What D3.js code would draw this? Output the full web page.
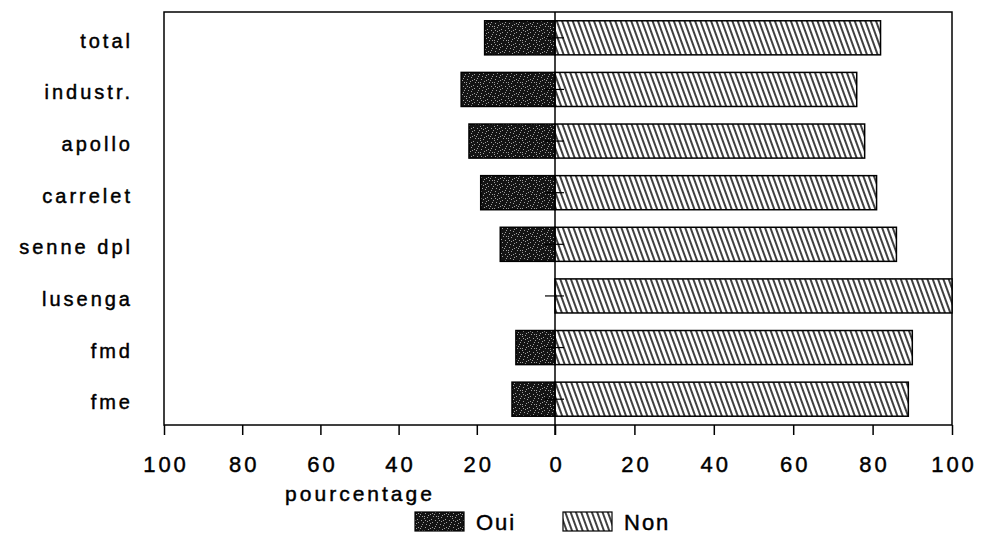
<!DOCTYPE html>
<html>
<head>
<meta charset="utf-8">
<script src="https://cdn.jsdelivr.net/npm/d3@7"></script>
<style>
  body { margin: 0; background: #fff; }
  svg { display: block; font-family: "Liberation Sans", Arial, sans-serif; }
  svg text { fill: #000; stroke: #000; stroke-width: 0.45px; }
</style>
</head>
<body>
<svg id="chart" width="981" height="541"></svg>
<script>
// categories (top to bottom) and values in percent
const categories = ["total", "industr.", "apollo", "carrelet", "senne dpl", "lusenga", "fmd", "fme"];
const oui = [18, 24, 22, 19, 14, 0, 10, 11];
const non = [82, 76, 78, 81, 86, 100, 90, 89];
const xTicks = [-100, -80, -60, -40, -20, 0, 20, 40, 60, 80, 100];
const axisTitle = "pourcentage";
const legendLabels = ["Oui", "Non"];

const svg = d3.select("#chart");

// frame of the plot
const plotLeft = 164, plotRight = 952, plotTop = 12, plotBottom = 425;

// left half (Oui) is a bit narrower than right half on the scan
const x = d3.scaleLinear().domain([-100, 0, 100]).range([plotLeft, 555, plotRight]);
const y = d3.scaleBand().domain(categories).range([plotTop, plotBottom])
  .paddingInner(0.34).paddingOuter(0.17);

// patterns
const defs = svg.append("defs");

const hatch = defs.append("pattern")
  .attr("id", "hatch")
  .attr("patternUnits", "userSpaceOnUse")
  .attr("width", 5).attr("height", 5)
  .attr("patternTransform", "rotate(-20)");
hatch.append("rect").attr("width", 5).attr("height", 5).attr("fill", "#fff");
hatch.append("line")
  .attr("x1", 1).attr("y1", -1).attr("x2", 1).attr("y2", 6)
  .attr("stroke", "#000").attr("stroke-width", 1.5);

// dark speckled fill
const dots = [[1,2],[4,0],[7,3],[2,6],[9,7],[5,9],[0,10],[11,1],[8,11],[3,4],[10,5],[6,6],[1,8],[12,9],[4,12],[9,2],[13,12],[7,13],[12,4],[5,2],[2,12],[10,10]];
const speck = defs.append("pattern")
  .attr("id", "speck")
  .attr("patternUnits", "userSpaceOnUse")
  .attr("width", 14).attr("height", 14);
speck.append("rect").attr("width", 14).attr("height", 14).attr("fill", "#141414");
speck.selectAll("rect.d").data(dots).enter().append("rect")
  .attr("class", "d")
  .attr("x", d => d[0]).attr("y", d => d[1])
  .attr("width", 1).attr("height", 1)
  .attr("fill", "#a0a0a0");

// plot frame
svg.append("rect")
  .attr("x", plotLeft).attr("y", plotTop)
  .attr("width", plotRight - plotLeft).attr("height", plotBottom - plotTop)
  .attr("fill", "none").attr("stroke", "#000").attr("stroke-width", 1.5);

// Oui bars (left)
svg.append("g").selectAll("rect")
  .data(categories.map((c, i) => ({ c: c, v: oui[i] })).filter(d => d.v > 0))
  .enter().append("rect")
  .attr("x", d => x(-d.v))
  .attr("y", d => y(d.c))
  .attr("width", d => x(0) - x(-d.v))
  .attr("height", y.bandwidth())
  .attr("fill", "url(#speck)")
  .attr("stroke", "#000").attr("stroke-width", 1.5);

// Non bars (right)
svg.append("g").selectAll("rect")
  .data(categories.map((c, i) => ({ c: c, v: non[i] })))
  .enter().append("rect")
  .attr("x", x(0))
  .attr("y", d => y(d.c))
  .attr("width", d => x(d.v) - x(0))
  .attr("height", y.bandwidth())
  .attr("fill", "url(#hatch)")
  .attr("stroke", "#000").attr("stroke-width", 1.5);

// zero line and small category ticks
svg.append("line")
  .attr("x1", x(0)).attr("x2", x(0))
  .attr("y1", plotTop).attr("y2", plotBottom + 10)
  .attr("stroke", "#000").attr("stroke-width", 1.5);
svg.append("g").selectAll("line")
  .data(categories).enter().append("line")
  .attr("x1", x(0) - 10).attr("x2", x(0) + 9)
  .attr("y1", d => y(d) + y.bandwidth() / 2)
  .attr("y2", d => y(d) + y.bandwidth() / 2)
  .attr("stroke", "#000").attr("stroke-width", 1.2);

// category labels
svg.append("g").selectAll("text")
  .data(categories).enter().append("text")
  .attr("x", 133)
  .attr("y", d => y(d) + y.bandwidth() / 2 + 10)
  .attr("text-anchor", "end")
  .style("font-size", "20px")
  .style("letter-spacing", "3px")
  .text(d => d);

// x axis
const xAxis = svg.append("g")
  .attr("transform", `translate(0,${plotBottom})`)
  .call(d3.axisBottom(x).tickValues(xTicks).tickSize(10).tickSizeOuter(0)
    .tickFormat(d => Math.abs(d)));
xAxis.select(".domain").remove();
xAxis.selectAll(".tick line").attr("stroke", "#000").attr("stroke-width", 1.5);
xAxis.selectAll(".tick text")
  .attr("y", 47).attr("dy", 0).attr("dx", 1.5)
  .style("font-family", "'Liberation Sans', Arial, sans-serif")
  .style("font-size", "22px")
  .style("letter-spacing", "3px");

// axis title
svg.append("text")
  .attr("x", 360).attr("y", 501)
  .attr("text-anchor", "middle")
  .style("font-size", "21px")
  .style("letter-spacing", "3px")
  .text(axisTitle);

// legend
const legend = svg.append("g");
const legendX = [415, 563];
const legendFill = ["url(#speck)", "url(#hatch)"];
legendLabels.forEach((lab, i) => {
  legend.append("rect")
    .attr("x", legendX[i]).attr("y", 512)
    .attr("width", 49).attr("height", 19)
    .attr("fill", legendFill[i])
    .attr("stroke", "#000").attr("stroke-width", 1.2);
  legend.append("text")
    .attr("x", legendX[i] + 61).attr("y", 530)
    .style("font-size", "22px")
    .style("letter-spacing", "2px")
    .text(lab);
});
</script>
</body>
</html>
